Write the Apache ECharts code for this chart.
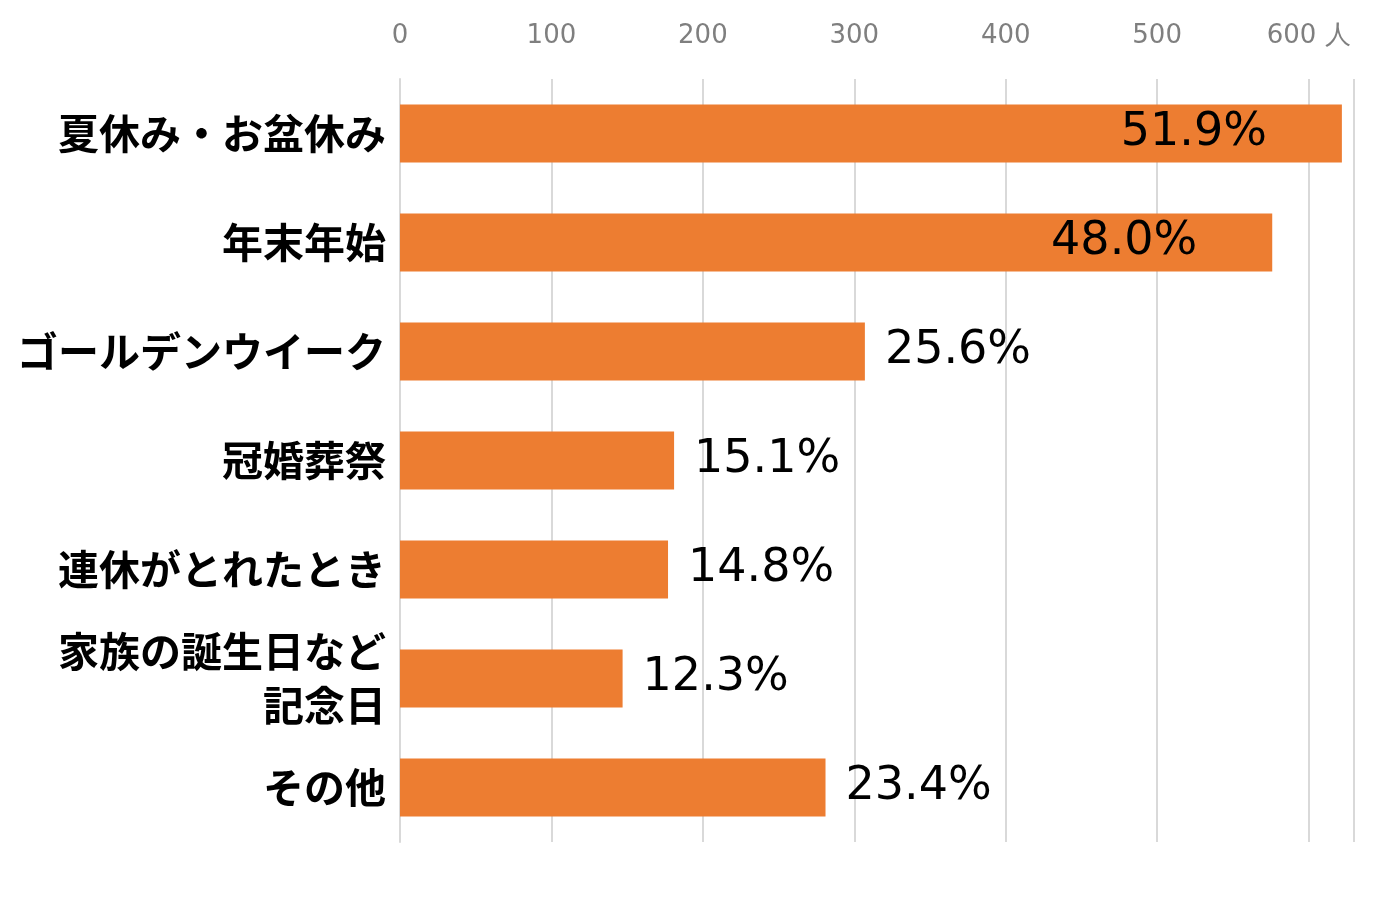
<!DOCTYPE html>
<html><head><meta charset="utf-8">
<script src="https://cdn.jsdelivr.net/npm/echarts@6/dist/echarts.min.js"></script>
<style>html,body{margin:0;padding:0;background:#fff}#c{width:1380px;height:919px}</style>
</head><body><div id="c"></div>
<script>
const categories = ['夏休み・お盆休み','年末年始','ゴールデンウイーク','冠婚葬祭','連休がとれたとき','家族の誕生日など\n記念日','その他'];
const values = [622, 576, 307, 181, 177, 147, 281];
const percents = ['51.9%','48.0%','25.6%','15.1%','14.8%','12.3%','23.4%'];
const tickLabels = ['0','100','200','300','400','500','600 人'];

const chart = echarts.init(document.getElementById('c'));
chart.setOption({
  animation:false,
  grid:{left:400,right:26,top:79,bottom:77,containLabel:false},
  xAxis:{type:'value',position:'top',min:0,max:630,interval:100,
    axisLine:{show:false},axisTick:{show:false},
    splitLine:{lineStyle:{color:'#d9d9d9',width:2}},
    axisLabel:{showMaxLabel:false,color:'#7f7f7f',fontSize:26,fontFamily:'DejaVu Sans',margin:30,
      formatter:v=>tickLabels[v/100]}},
  yAxis:{type:'category',inverse:true,data:categories,
    axisLine:{show:true,lineStyle:{color:'#d9d9d9',width:2}},axisTick:{show:false},
    axisLabel:{color:'#000',fontSize:41,fontWeight:'bold',fontFamily:'Noto Sans CJK JP',margin:14,lineHeight:54,align:'right'}},
  series:[{type:'bar',barWidth:58,
    data:values.map((v,i)=>({value:v,label:{position:i<2?'insideRight':'right',distance:i<2?75:20}})),
    itemStyle:{color:'#ed7d31'},
    label:{show:true,formatter:p=>percents[p.dataIndex],color:'#000',fontSize:46,fontFamily:'DejaVu Sans'}}]
});
</script></body></html>
